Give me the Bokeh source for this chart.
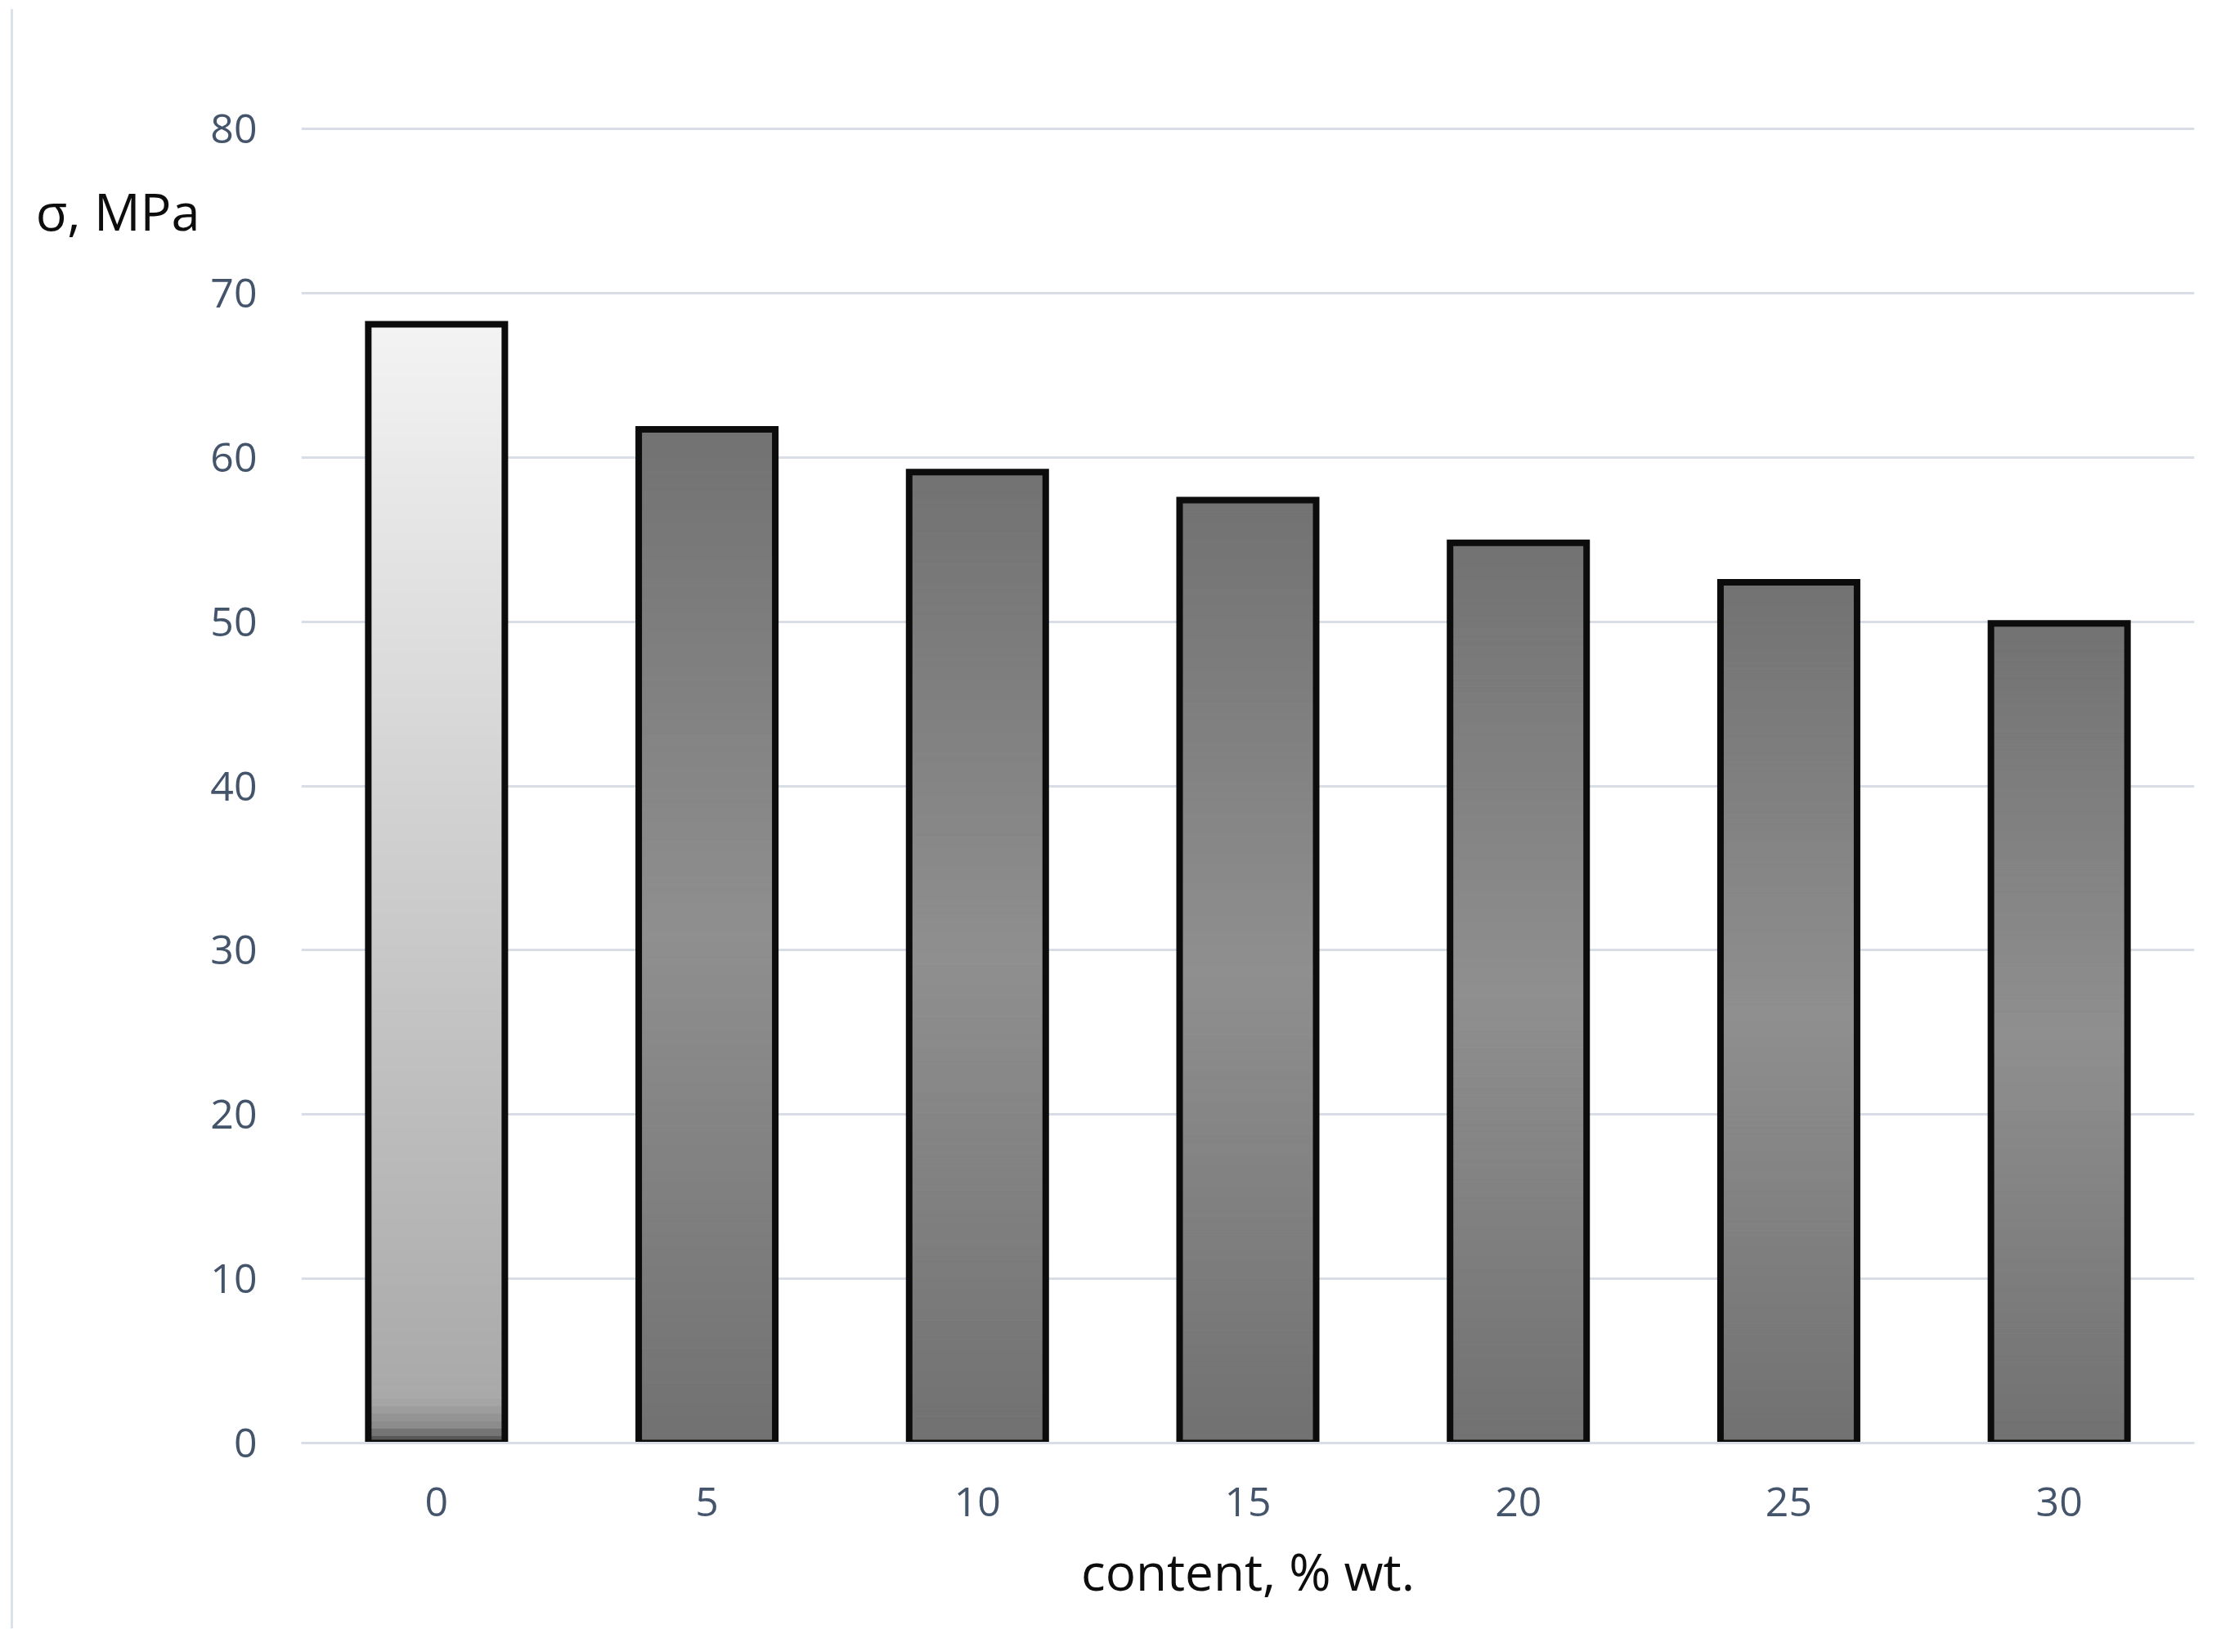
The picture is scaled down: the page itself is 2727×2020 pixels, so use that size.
import numpy as np
from bokeh.plotting import figure
from bokeh.models import Range1d, ColumnDataSource, FixedTicker, LinearAxis
from bokeh.embed import file_html
from bokeh.resources import INLINE

# ---- data ----
content = ["0", "5", "10", "15", "20", "25", "30"]
strength = [68.1, 61.7, 59.1, 57.4, 54.8, 52.4, 49.9]
y_ticks = [0, 10, 20, 30, 40, 50, 60, 70, 80]
x_title = "content, % wt."
y_title = "σ, MPa"
y_title_level = 75  # height (in MPa) at which the horizontal y title sits

# ---- styles ----
FONT = "Open Sans"
TICK_COLOR = "#44546A"
GRID_COLOR = "#D9DEE6"
first_stops = [(0.0, "#4a4a4a"), (0.015, "#8a8a8a"), (0.04, "#a9a9a9"), (1.0, "#f3f3f3")]
other_stops = [(0.0, "#717171"), (0.5, "#8f8f8f"), (1.0, "#727272")]
BAR_W = 0.505
N_SLICES = 150


def hex2rgb(h):
    h = h.lstrip("#")
    return np.array([int(h[i:i + 2], 16) for i in (0, 2, 4)], dtype=float)


def interp(stops, f):
    for (f0, c0), (f1, c1) in zip(stops[:-1], stops[1:]):
        if f0 <= f <= f1:
            t = (f - f0) / (f1 - f0) if f1 > f0 else 0
            c = hex2rgb(c0) * (1 - t) + hex2rgb(c1) * t
            return "#%02x%02x%02x" % tuple(int(round(x)) for x in c)
    return stops[-1][1]


xs, bots, tops, cols = [], [], [], []
for i, (c, v) in enumerate(zip(content, strength)):
    stops = first_stops if i == 0 else other_stops
    for k in range(N_SLICES):
        f0, f1 = k / N_SLICES, (k + 1) / N_SLICES
        xs.append(c)
        bots.append(v * f0)
        tops.append(v * f1)
        cols.append(interp(stops, (f0 + f1) / 2))

grad_src = ColumnDataSource(dict(x=xs, bottom=bots, top=tops, color=cols))

p = figure(
    x_range=content,
    y_range=Range1d(0, 80.1),
    width=2690, height=1980,
    output_backend="svg", toolbar_location=None, tools="",
    min_border_left=352, min_border_right=23,
    min_border_top=144, min_border_bottom=227,
)
p.styles = {"border-left": "3px solid #DDE2EA", "margin-left": "13px", "margin-top": "11px"}
p.outline_line_color = None
p.background_fill_color = "white"
p.border_fill_color = "white"

p.vbar(x="x", bottom="bottom", top="top", width=BAR_W, fill_color="color",
       line_color="color", line_width=1, source=grad_src)
p.vbar(x=content, top=strength, width=BAR_W, fill_color=None,
       line_color="#0C0C0C", line_width=8, line_join="miter")

# grid
p.xgrid.grid_line_color = None
p.ygrid.grid_line_color = GRID_COLOR
p.ygrid.grid_line_width = 3
p.yaxis.ticker = FixedTicker(ticks=y_ticks)

# y axis
p.yaxis.axis_line_color = None
p.yaxis.major_tick_line_color = None
p.yaxis.minor_tick_line_color = None
p.yaxis.major_tick_out = 0
p.yaxis.major_label_standoff = 54
p.yaxis.major_label_text_font = FONT
p.yaxis.major_label_text_font_size = "50px"
p.yaxis.major_label_text_color = TICK_COLOR

# horizontal y title as an outer left axis with a single labelled tick
ytitle_axis = LinearAxis(ticker=FixedTicker(ticks=[y_title_level]),
                         major_label_overrides={y_title_level: y_title})
ytitle_axis.axis_line_color = None
ytitle_axis.major_tick_line_color = None
ytitle_axis.minor_tick_line_color = None
ytitle_axis.major_tick_out = 0
ytitle_axis.major_tick_in = 0
ytitle_axis.major_label_standoff = 10
ytitle_axis.major_label_text_font = FONT
ytitle_axis.major_label_text_font_size = "63px"
ytitle_axis.major_label_text_color = "#0D0D0D"
p.add_layout(ytitle_axis, "left")

# x axis
p.xaxis.axis_line_color = GRID_COLOR
p.xaxis.axis_line_width = 3
p.xaxis.major_tick_line_color = None
p.xaxis.minor_tick_line_color = None
p.xaxis.major_tick_out = 0
p.xaxis.major_label_standoff = 54
p.xaxis.major_label_text_font = FONT
p.xaxis.major_label_text_font_size = "50px"
p.xaxis.major_label_text_color = TICK_COLOR
p.xaxis.axis_label = x_title
p.xaxis.axis_label_text_font = FONT
p.xaxis.axis_label_text_font_size = "62px"
p.xaxis.axis_label_text_font_style = "normal"
p.xaxis.axis_label_text_color = "#0D0D0D"
p.xaxis.axis_label_standoff = 22

open("out.html", "w").write(file_html(p, INLINE))
